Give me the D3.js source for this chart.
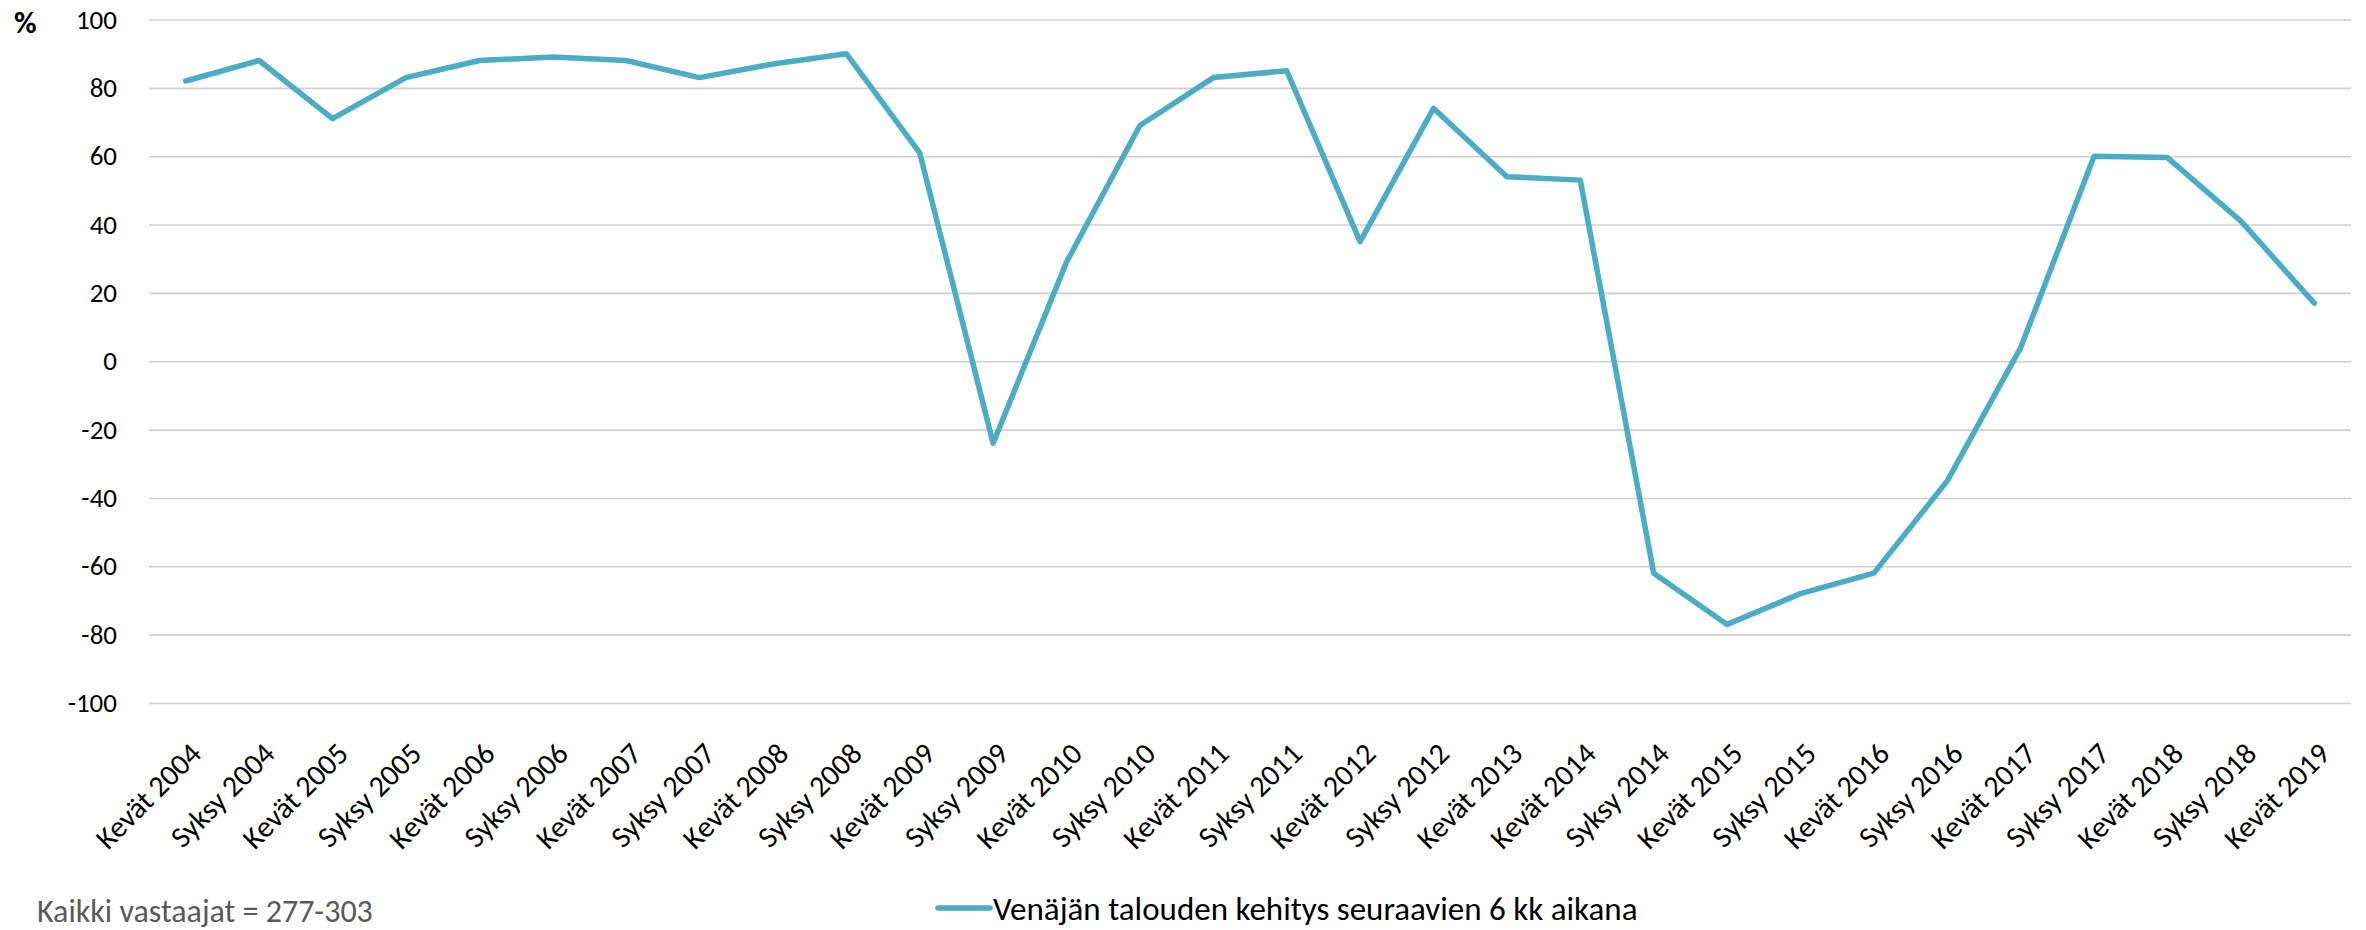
<html>
<head>
    <meta charset="UTF-8">
    <script src="https://d3js.org/d3.v7.min.js"></script>
    <style>
        body { margin: 0; background: #fff; }
        text { font-family: Carlito, Calibri, Lato, sans-serif; }
    </style>
</head>
<body>
</body>
<script>
    // data
    var categories = ["Kevät 2004", "Syksy 2004", "Kevät 2005", "Syksy 2005", "Kevät 2006", "Syksy 2006",
        "Kevät 2007", "Syksy 2007", "Kevät 2008", "Syksy 2008", "Kevät 2009", "Syksy 2009",
        "Kevät 2010", "Syksy 2010", "Kevät 2011", "Syksy 2011", "Kevät 2012", "Syksy 2012",
        "Kevät 2013", "Kevät 2014", "Syksy 2014", "Kevät 2015", "Syksy 2015", "Kevät 2016",
        "Syksy 2016", "Kevät 2017", "Syksy 2017", "Kevät 2018", "Syksy 2018", "Kevät 2019"];
    var values = [82, 88, 71, 83, 88, 89, 88, 83, 87, 90, 61, -24,
        29, 69, 83, 85, 35, 74, 54, 53, -62, -77, -68, -62,
        -35, 4, 60, 59.6, 41, 17];
    var yTicks = [-100, -80, -60, -40, -20, 0, 20, 40, 60, 80, 100];
    var seriesName = "Venäjän talouden kehitys seuraavien 6 kk aikana";
    var unitLabel = "%";
    var footnote = "Kaikki vastaajat = 277-303";

    var W = 2366, H = 930;
    var margin = { top: 19.5, right: 15, bottom: 227, left: 149 },
        width = W - margin.left - margin.right,
        height = H - margin.top - margin.bottom;

    var lineColor = "#4bacc6";

    var svg = d3.select("body")
        .append("svg")
        .attr("width", W)
        .attr("height", H);

    var g = svg.append("g")
        .attr("transform", "translate(" + margin.left + "," + margin.top + ")");

    var x = d3.scaleBand()
        .domain(categories)
        .range([0, width])
        .padding(0);

    var y = d3.scaleLinear()
        .domain([-100, 100])
        .range([height, 0]);

    // gridlines + y labels (plain hyphen like the original)
    var yAxis = g.append("g")
        .call(d3.axisLeft(y).tickValues(yTicks).tickSize(-width).tickPadding(32)
            .tickFormat(function (d) { return String(d); }));
    yAxis.select(".domain").remove();
    yAxis.selectAll(".tick line")
        .attr("stroke", "#cfcfcf")
        .attr("stroke-width", 1.6);
    yAxis.selectAll(".tick text")
        .attr("font-size", 27)
        .attr("fill", "#000");

    // x labels, rotated
    g.append("g")
        .selectAll("text")
        .data(categories)
        .enter()
        .append("text")
        .attr("transform", function (d) {
            return "translate(" + (x(d) + x.bandwidth() / 2 + 10) + "," + (height + 45) + ") rotate(-45)";
        })
        .attr("text-anchor", "end")
        .attr("dy", "0.35em")
        .attr("font-size", 30)
        .attr("fill", "#000")
        .text(function (d) { return d; });

    // the line
    var line = d3.line()
        .x(function (d, i) { return x(categories[i]) + x.bandwidth() / 2; })
        .y(function (d) { return y(d); });

    g.append("path")
        .datum(values)
        .attr("d", line)
        .attr("fill", "none")
        .attr("stroke", lineColor)
        .attr("stroke-width", 5.5)
        .attr("stroke-linejoin", "round")
        .attr("stroke-linecap", "round");

    // % label
    svg.append("text")
        .attr("x", 14)
        .attr("y", 33)
        .attr("font-size", 31)
        .attr("font-weight", "bold")
        .text(unitLabel);

    // legend
    var legend = svg.append("g")
        .attr("transform", "translate(936,908)");
    legend.append("line")
        .attr("x1", 2).attr("x2", 54)
        .attr("y1", 0).attr("y2", 0)
        .attr("stroke", lineColor)
        .attr("stroke-width", 5.5)
        .attr("stroke-linecap", "round");
    legend.append("text")
        .attr("x", 57)
        .attr("dy", "0.35em")
        .attr("font-size", 33)
        .attr("fill", "#000")
        .text(seriesName);

    // footnote
    svg.append("text")
        .attr("x", 37)
        .attr("y", 922)
        .attr("font-size", 32)
        .attr("fill", "#595959")
        .text(footnote);
</script>
</html>
